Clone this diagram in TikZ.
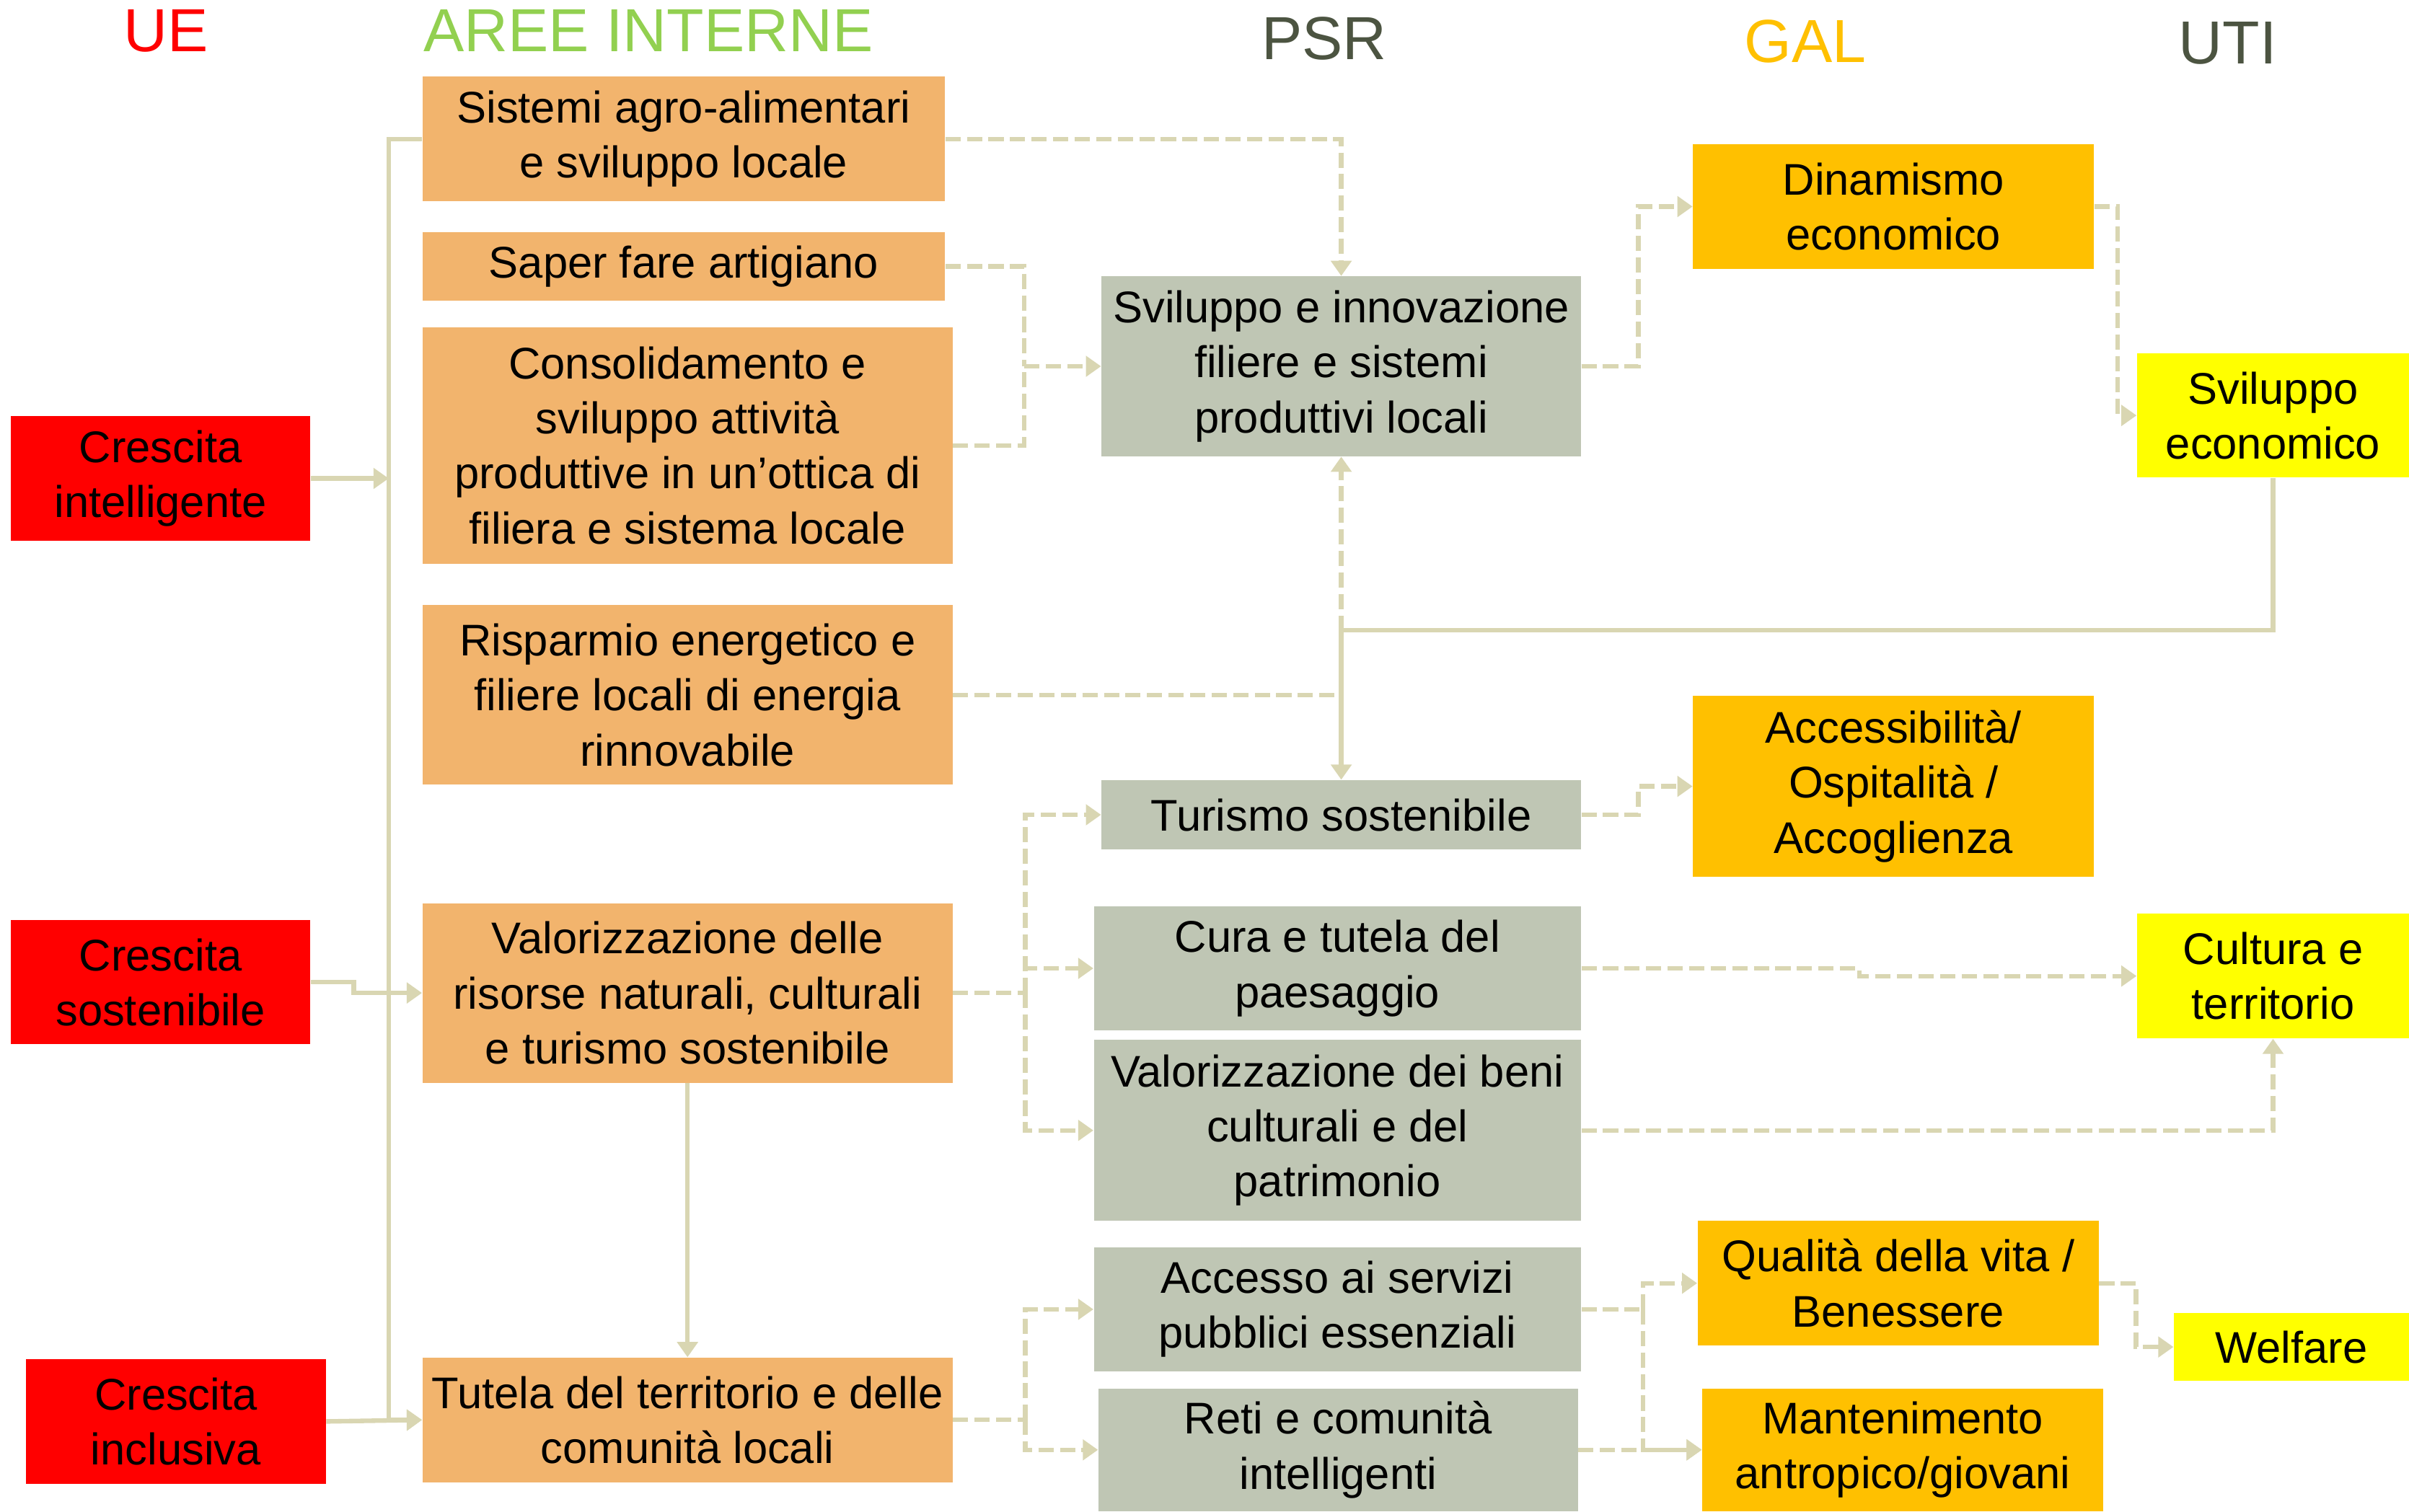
\documentclass[tikz,border=0pt]{standalone}
\usepackage{fontspec}
\setmainfont{Liberation Sans}
\usetikzlibrary{arrows.meta}
\definecolor{cred}{HTML}{FF0000}
\definecolor{corange}{HTML}{F2B46D}
\definecolor{cgray}{HTML}{BFC6B4}
\definecolor{cgal}{HTML}{FFC000}
\definecolor{cuti}{HTML}{FFFF00}
\definecolor{clink}{HTML}{D9D6B2}
\definecolor{cgreen}{HTML}{92D050}
\definecolor{cdark}{HTML}{4C5441}
\newcommand\bxfont{\fontsize{17.5}{21.7}\selectfont}
\newcommand\hdfont{\fontsize{24}{28}\selectfont}
\begin{document}
\begin{tikzpicture}[x=0.0213cm,y=-0.0213cm,
  basebox/.style={inner sep=0pt, align=center, font=\bxfont, text=black},
  sz/.style 2 args={minimum width=#1*0.0213cm, minimum height=#2*0.0213cm},
  redb/.style={basebox, fill=cred},
  orb/.style={basebox, fill=corange},
  grb/.style={basebox, fill=cgray},
  galb/.style={basebox, fill=cgal},
  utib/.style={basebox, fill=cuti},
  hdr/.style={font=\hdfont, inner sep=0pt},
  link/.style={draw=clink, line width=1.8pt},
  solidarrow/.style={link, -{Triangle[length=6pt,width=8pt]}},
  dashline/.style={link, dash pattern=on 6pt off 2.5pt},
  dasharrow/.style={dashline, -{Triangle[length=6pt,width=8pt]}}
]
\useasboundingbox (0,0) rectangle (1568,984);

% headers
\node[hdr, text=cred] (hue) at (108,20) {UE};
\node[hdr, text=cgreen] (hai) at (422,20) {AREE INTERNE};
\node[hdr, text=cdark] (hpsr) at (862,25) {PSR};
\node[hdr, text=cgal] (hgal) at (1175,27) {GAL};
\node[hdr, text=cdark] (huti) at (1450,28) {UTI};

% UE
\node[redb, sz={195}{81}] (ci) at (104.5,311.5) {Crescita\\intelligente};
\node[redb, sz={195}{81}] (cs) at (104.5,639.5) {Crescita\\sostenibile};
\node[redb, sz={195}{81}] (cinc) at (114.5,925.5) {Crescita\\inclusiva};

% AREE INTERNE
\node[orb, sz={340}{81}] (sist) at (445,90.5) {Sistemi agro-alimentari\\e sviluppo locale};
\node[orb, sz={340}{45}] (saper) at (445,173.5) {Saper fare artigiano};
\node[orb, sz={345}{154}] (cons) at (447.5,290) {Consolidamento e\\sviluppo attività\\produttive in un’ottica di\\filiera e sistema locale};
\node[orb, sz={345}{117}] (risp) at (447.5,452.5) {Risparmio energetico e\\filiere locali di energia\\rinnovabile};
\node[orb, sz={345}{117}] (valr) at (447.5,646.5) {Valorizzazione delle\\risorse naturali, culturali\\e turismo sostenibile};
\node[orb, sz={345}{81}] (tut) at (447.5,924.5) {Tutela del territorio e delle\\comunità locali};

% PSR
\node[grb, sz={312}{117}] (svil) at (873,238.5) {Sviluppo e innovazione\\filiere e sistemi\\produttivi locali};
\node[grb, sz={312}{45}] (tur) at (873,530.5) {Turismo sostenibile};
\node[grb, sz={317}{81}] (cura) at (870.5,630.5) {Cura e tutela del\\paesaggio};
\node[grb, sz={317}{118}] (vbeni) at (870.5,736) {Valorizzazione dei beni\\culturali e del\\patrimonio};
\node[grb, sz={317}{81}] (acc) at (870.5,852.5) {Accesso ai servizi\\pubblici essenziali};
\node[grb, sz={312}{80}] (reti) at (871,944) {Reti e comunità\\intelligenti};

% GAL
\node[galb, sz={261}{81}] (din) at (1232.5,134.5) {Dinamismo\\economico};
\node[galb, sz={261}{118}] (ospit) at (1232.5,512) {Accessibilità/\\Ospitalità /\\Accoglienza};
\node[galb, sz={261}{81}] (qual) at (1235.5,835.5) {Qualità della vita /\\Benessere};
\node[galb, sz={261}{80}] (mant) at (1238.5,944) {Mantenimento\\antropico/giovani};

% UTI
\node[utib, sz={177}{81}] (sveco) at (1479.5,270.5) {Sviluppo\\economico};
\node[utib, sz={177}{81}] (cult) at (1479.5,635.5) {Cultura e\\territorio};
\node[utib, sz={153}{44}] (welf) at (1491.5,877) {Welfare};

% junction coordinates
\coordinate (bus) at (253,0);
\path (svil.west) ++(-50,0) coordinate (js);
\path (valr.east) ++(47,0) coordinate (jv);
\path (tut.east) ++(47,0) coordinate (jt);
\path (sveco.south) ++(0,99) coordinate (jc);
\path (acc.east) ++(40,0) coordinate (ja);

% dashed connectors
\draw[dasharrow] (sist.east) -| (svil.north);
\draw[dashline] (saper.east) -| (js);
\draw[dashline] (cons.east) -| (js);
\draw[dasharrow] (js) -- (svil.west);
\draw[dasharrow] (svil.east) -- ++(37,0) |- (din.west);
\draw[dasharrow] (din.east) -- ++(15,0) |- (sveco.west);
\draw[dasharrow] (risp.east) -| (svil.south);
\draw[dashline] (valr.east) -- (jv);
\draw[dasharrow] (jv) |- (tur.west);
\draw[dasharrow] (jv) |- (cura.west);
\draw[dasharrow] (jv) |- (vbeni.west);
\draw[dasharrow] (tur.east) -- ++(37,0) |- (ospit.west);
\draw[dasharrow] (cura.east) -- ++(181,0) |- (cult.west);
\draw[dasharrow] (vbeni.east) -| (cult.south);
\draw[dashline] (tut.east) -- (jt);
\draw[dasharrow] (jt) |- (acc.west);
\draw[dasharrow] (jt) |- (reti.west);
\draw[dashline] (acc.east) -- (ja);
\draw[dasharrow] (ja) |- (qual.west);
\draw[dasharrow] (ja) |- (mant.west);
\draw[dasharrow] (reti.east) -- (mant.west);
\draw[dasharrow] (qual.east) -- ++(24,0) |- (welf.west);

% solid connectors
\draw[solidarrow] (sist.west) -- (sist.west -| bus) -- (tut.west -| bus) -- (tut.west);
\draw[solidarrow] (ci.east) -- (ci.east -| bus);
\draw[solidarrow] (cs.east) -- ++(28,0) |- (valr.west);
\draw[solidarrow] (cinc.east) -- (tut.west);
\draw[solidarrow] (valr.south) -- (tut.north);
\draw[solidarrow] (sveco.south) -- (jc) -| (tur.north);
\end{tikzpicture}
\end{document}
